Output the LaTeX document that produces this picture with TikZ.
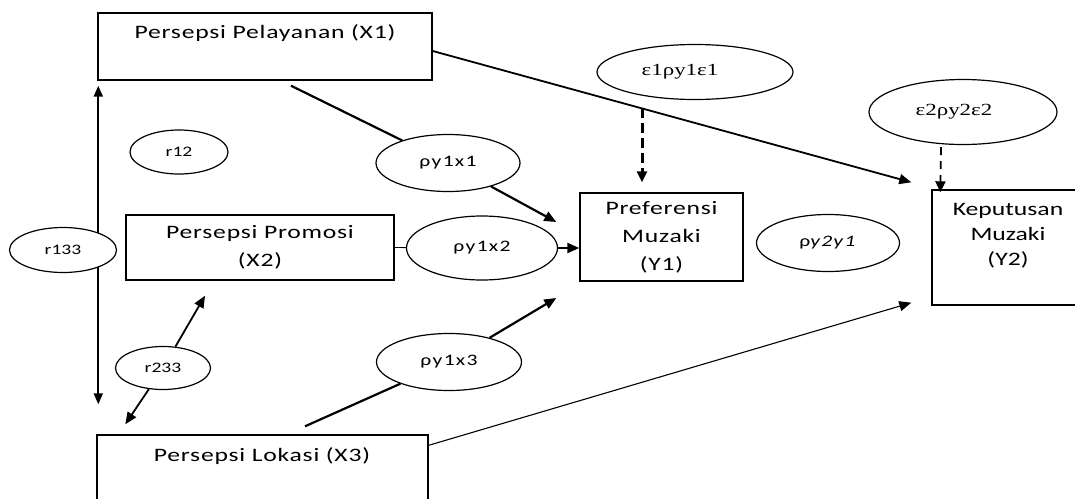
\documentclass[tikz,border=0pt]{standalone}
\usepackage{fontspec}
\setmainfont{Carlito}[FakeStretch=1.35]
\newfontfamily\grfont{Liberation Serif}[FakeStretch=1.35]
\usetikzlibrary{shapes.geometric,arrows.meta,positioning}
\begin{document}
\begin{tikzpicture}[x=1pt,y=-1pt,
    varbox/.style={draw,line width=1.4pt,inner sep=0pt},
    boxtext/.style={align=center,inner sep=0pt,font=\fontsize{19}{28}\selectfont\addfontfeature{LetterSpace=4}},
    coef/.style={ellipse,draw,line width=1.2pt,fill=white,inner sep=0pt,font=\fontsize{16}{18}\selectfont\addfontfeature{LetterSpace=8}},
    corr/.style={coef,font=\fontsize{14.5}{16}\selectfont},
    errnode/.style={coef,font=\grfont\fontsize{17}{19}\selectfont},
    effect/.style={line width=2.2pt,-{Triangle[length=12pt,width=10pt]}},
    plainlink/.style={line width=2.2pt},
    errarrow/.style={line width=3pt,dash pattern=on 10pt off 5pt,-{Triangle[length=11pt,width=10pt]}},
    twoway/.style={line width=1.9pt,{Triangle[length=11pt,width=9pt]}-{Triangle[length=11pt,width=9pt]}}]
    \useasboundingbox (0,0) rectangle (1075,498);
    \clip (0,0) rectangle (1075,498);

    % variabel
    \node[varbox,minimum width=334pt,minimum height=67pt] (x1) at (265,46.5) {};
    \node[boxtext] (x1t) at (265,33) {Persepsi Pelayanan (X1)};
    \node[varbox,boxtext,minimum width=268pt,minimum height=65pt] (x2) at (260,247.5) {Persepsi Promosi\\(X2)};
    \node[varbox,minimum width=331pt,minimum height=90pt] (x3) at (262.5,480) {};
    \node[boxtext] (x3t) at (262,456) {Persepsi Lokasi (X3)};
    \node[varbox,boxtext,minimum width=163pt,minimum height=88pt] (y1) at (661.5,237) {Preferensi\\Muzaki\\(Y1)};
    \node[varbox,minimum width=163pt,minimum height=115pt] (y2) at (1013.5,247.5) {};
    \node[boxtext,font=\fontsize{19}{25}\selectfont] (y2t) at (1008,236) {Keputusan\\Muzaki\\(Y2)};

    % korelasi
    \draw[twoway] ([xshift=1pt,yshift=-5pt]x1.south west) -- ([xshift=2pt,yshift=30pt]x3.north west);

    % koefisien
    \node[coef,minimum width=144pt,minimum height=57pt] (b11) at (448,163) {ρy1x1};
    \node[coef,minimum width=151pt,minimum height=64pt] (b12) at (482,248) {ρy1x2};
    \node[coef,minimum width=145pt,minimum height=57pt] (b13) at (449,362) {ρy1x3};
    \node[coef,minimum width=143pt,minimum height=57pt] (b21) at (828,243) {ρ\textit{y2y1}};
    \node[errnode,minimum width=196pt,minimum height=55pt] (e1) at (695,72) {\hspace*{-30pt}ε1ρy1ε1};
    \node[errnode,minimum width=188pt,minimum height=65pt] (e2) at (963,112) {\hspace*{-18pt}ε2ρy2ε2};
    \node[corr,minimum width=98pt,minimum height=44pt] (r12) at (179,152) {r12};
    \node[corr,minimum width=107pt,minimum height=45pt] (r133) at (63,250) {r133};
    \node[corr,minimum width=95pt,minimum height=43pt] (r233) at (163,368) {r233};

    % jalur
    \draw[plainlink] ([xshift=26pt,yshift=-5pt]x1.south) -- (b11);
    \draw[effect] (b11) -- ([xshift=-23pt,yshift=15pt]y1.west);
    \draw[line width=0.9pt] (x2.east) -- (b12);
    \draw[effect] (b12.east) -- (b12.east -| y1.west);
    \draw[plainlink] ([xshift=42.5pt,yshift=8pt]x3.north) -- (b13);
    \draw[effect] (b13) -- ([xshift=-23pt,yshift=-61pt]y1.west);
    \draw[effect,line width=1.8pt] ([yshift=-4.5pt]x1.east) -- ([xshift=-20pt,yshift=7pt]y2.north west);
    \draw[effect,line width=1.1pt] ([yshift=-11pt]x3.north east) -- ([xshift=-20pt,yshift=3pt]y2.south west);
    \draw[errarrow] ([xshift=-53pt,yshift=-8pt]e1.south) -- ([xshift=-19.5pt,yshift=10pt]y1.north);
    \draw[errarrow,line width=1.8pt,dash pattern=on 8pt off 6pt] ([xshift=-22pt,yshift=-2pt]e2.south) -- ([xshift=9pt,yshift=-3pt]y2.north west);
    \draw[effect,line width=1.8pt] (r233) -- ([xshift=-55pt,yshift=-15pt]x2.south);
    \draw[effect,line width=1.8pt] (r233) -- ([xshift=29pt,yshift=10pt]x3.north west);
\end{tikzpicture}
\end{document}
